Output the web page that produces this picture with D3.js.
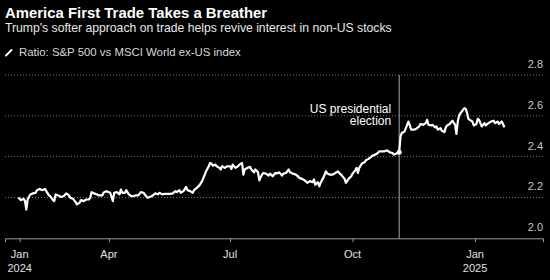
<!DOCTYPE html>
<html>
<head>
<meta charset="utf-8">
<script src="https://cdn.jsdelivr.net/npm/d3@7"></script>
<style>
  body { margin: 0; background: #000; }
  svg { display: block; font-family: "Liberation Sans", Arial, sans-serif; }
</style>
</head>
<body>
<div id="chart"></div>
<script>
var width = 550, height = 280;
var margin = {left: 5, right: 7, top: 75, bottom: 42};

var title = "America First Trade Takes a Breather";
var subtitle = "Trump's softer approach on trade helps revive interest in non-US stocks";
var legendLabel = "Ratio: S&P 500 vs MSCI World ex-US index";

var dates = [
  "2024-01-24","2024-01-26","2024-01-28","2024-01-29","2024-01-30","2024-01-31","2024-02-02","2024-02-04","2024-02-06","2024-02-07",
  "2024-02-09","2024-02-11","2024-02-13","2024-02-14","2024-02-16","2024-02-17","2024-02-19","2024-02-20","2024-02-21","2024-02-23",
  "2024-02-25","2024-02-27","2024-02-29","2024-03-02","2024-03-03","2024-03-05","2024-03-07","2024-03-08","2024-03-10","2024-03-11",
  "2024-03-13","2024-03-15","2024-03-17","2024-03-18","2024-03-19","2024-03-21","2024-03-23","2024-03-25","2024-03-27","2024-03-28",
  "2024-03-30","2024-04-02","2024-04-04","2024-04-05","2024-04-07","2024-04-09","2024-04-10","2024-04-11","2024-04-13","2024-04-14",
  "2024-04-16","2024-04-18","2024-04-19","2024-04-21","2024-04-23","2024-04-25","2024-04-27","2024-04-29","2024-04-30","2024-05-02",
  "2024-05-04","2024-05-06","2024-05-08","2024-05-09","2024-05-11","2024-05-13","2024-05-15","2024-05-17","2024-05-19","2024-05-21",
  "2024-05-22","2024-05-24","2024-05-25","2024-05-27","2024-05-29","2024-05-30","2024-06-01","2024-06-03","2024-06-04","2024-06-06",
  "2024-06-08","2024-06-10","2024-06-11","2024-06-13","2024-06-15","2024-06-16","2024-06-17","2024-06-18","2024-06-20","2024-06-21",
  "2024-06-23","2024-06-24","2024-06-25","2024-06-27","2024-06-29","2024-07-01","2024-07-02","2024-07-03","2024-07-05","2024-07-07",
  "2024-07-08","2024-07-10","2024-07-11","2024-07-12","2024-07-14","2024-07-16","2024-07-17","2024-07-19","2024-07-20","2024-07-22",
  "2024-07-23","2024-07-25","2024-07-26","2024-07-28","2024-07-30","2024-07-31","2024-08-02","2024-08-04","2024-08-05","2024-08-07",
  "2024-08-09","2024-08-10","2024-08-12","2024-08-14","2024-08-15","2024-08-17","2024-08-19","2024-08-21","2024-08-22","2024-08-24",
  "2024-08-26","2024-08-28","2024-08-30","2024-09-01","2024-09-02","2024-09-03","2024-09-05","2024-09-06","2024-09-07","2024-09-09",
  "2024-09-11","2024-09-12","2024-09-14","2024-09-16","2024-09-18","2024-09-20","2024-09-21","2024-09-23","2024-09-25","2024-09-26",
  "2024-09-28","2024-09-30","2024-10-01","2024-10-03","2024-10-04","2024-10-05","2024-10-06","2024-10-08","2024-10-10","2024-10-11",
  "2024-10-13","2024-10-15","2024-10-16","2024-10-18","2024-10-20","2024-10-21","2024-10-23","2024-10-25","2024-10-27","2024-10-29",
  "2024-10-31","2024-11-01","2024-11-03","2024-11-05","2024-11-06","2024-11-07","2024-11-09","2024-11-10","2024-11-12","2024-11-13",
  "2024-11-14","2024-11-16","2024-11-18","2024-11-20","2024-11-21","2024-11-23","2024-11-25","2024-11-26","2024-11-27","2024-11-29",
  "2024-11-30","2024-12-02","2024-12-03","2024-12-04","2024-12-06","2024-12-07","2024-12-09","2024-12-10","2024-12-11","2024-12-13",
  "2024-12-14","2024-12-15","2024-12-17","2024-12-18","2024-12-19","2024-12-20","2024-12-21","2024-12-22","2024-12-24","2024-12-25",
  "2024-12-26","2024-12-27","2024-12-28","2024-12-30","2024-12-31","2025-01-02","2025-01-03","2025-01-04","2025-01-06","2025-01-08",
  "2025-01-09","2025-01-11","2025-01-13","2025-01-15","2025-01-16","2025-01-18","2025-01-19","2025-01-21","2025-01-22","2025-01-23"
];

var ratio = [
  2.199,2.187,2.194,2.182,2.141,2.190,2.215,2.220,2.223,2.236,
  2.242,2.236,2.242,2.231,2.210,2.206,2.187,2.182,2.215,2.210,
  2.203,2.206,2.220,2.210,2.199,2.194,2.177,2.166,2.174,2.187,
  2.182,2.190,2.190,2.199,2.226,2.220,2.215,2.210,2.210,2.223,
  2.231,2.223,2.182,2.223,2.226,2.215,2.239,2.223,2.223,2.236,
  2.215,2.206,2.206,2.210,2.210,2.226,2.223,2.206,2.199,2.203,
  2.210,2.220,2.215,2.223,2.215,2.218,2.218,2.218,2.220,2.231,
  2.226,2.236,2.223,2.231,2.252,2.236,2.231,2.223,2.236,2.247,
  2.259,2.280,2.296,2.328,2.353,2.369,2.366,2.356,2.361,2.353,
  2.345,2.337,2.353,2.345,2.353,2.353,2.340,2.361,2.345,2.353,
  2.361,2.369,2.312,2.337,2.345,2.350,2.337,2.323,2.337,2.323,
  2.284,2.312,2.320,2.317,2.307,2.317,2.304,2.320,2.317,2.323,
  2.307,2.317,2.320,2.337,2.323,2.317,2.313,2.304,2.296,2.291,
  2.284,2.272,2.280,2.275,2.288,2.263,2.275,2.255,2.272,2.296,
  2.328,2.317,2.312,2.312,2.320,2.328,2.320,2.307,2.291,2.272,
  2.291,2.304,2.317,2.333,2.345,2.320,2.345,2.366,2.372,2.382,
  2.389,2.399,2.405,2.410,2.418,2.426,2.426,2.426,2.431,2.421,
  2.418,2.410,2.415,2.421,2.499,2.516,2.523,2.540,2.572,2.553,
  2.532,2.532,2.537,2.548,2.560,2.556,2.564,2.580,2.556,2.553,
  2.556,2.543,2.548,2.532,2.540,2.527,2.520,2.543,2.553,2.560,
  2.569,2.576,2.556,2.511,2.572,2.601,2.613,2.621,2.638,2.634,
  2.613,2.585,2.580,2.572,2.553,2.560,2.585,2.580,2.548,2.564,
  2.553,2.564,2.572,2.576,2.564,2.572,2.560,2.572,2.560,2.543
];

var yTicks = [2.0, 2.2, 2.4, 2.6, 2.8];
var xTickDates = ["2024-01-25", "2024-04-01", "2024-07-01", "2024-10-01", "2025-01-01"];
var xTickMonths = ["Jan", "Apr", "Jul", "Oct", "Jan"];
var xTickYears = ["2024", "", "", "", "2025"];
var xDomain = ["2024-01-14", "2025-02-21"];

var electionDate = "2024-11-05";
var electionLabel = ["US presidential", "election"];

var parseDate = d3.timeParse("%Y-%m-%d");
var data = dates.map((d, i) => ({date: parseDate(d), value: ratio[i]}));

var svg = d3.select("#chart").append("svg")
  .attr("width", width).attr("height", height);

svg.append("rect").attr("width", width).attr("height", height).attr("fill", "#000");

var x = d3.scaleTime()
  .domain(xDomain.map(parseDate))
  .range([margin.left, width - margin.right]);
var y = d3.scaleLinear()
  .domain([2.0, 2.8])
  .range([height - margin.bottom + 0.3, margin.top]);

// header
svg.append("text").attr("x", 5).attr("y", 18)
  .attr("fill", "#fff").style("font-weight", "bold").style("font-size", "14.9px")
  .text(title);
svg.append("text").attr("x", 5).attr("y", 31.5)
  .attr("fill", "#e8e8e8").style("font-size", "12.2px")
  .text(subtitle);
svg.append("line")
  .attr("x1", 6).attr("y1", 55.5).attr("x2", 11.5).attr("y2", 50)
  .attr("stroke", "#fff").attr("stroke-width", 2).attr("stroke-linecap", "round");
svg.append("text").attr("x", 19).attr("y", 55.5)
  .attr("fill", "#d8d8d8").style("font-size", "11.4px")
  .text(legendLabel);

// grid
svg.append("g").selectAll("line")
  .data(yTicks.filter(t => t > 2.0))
  .enter().append("line")
  .attr("x1", margin.left).attr("x2", width - margin.right)
  .attr("y1", d => y(d)).attr("y2", d => y(d))
  .attr("stroke", "#777").attr("stroke-dasharray", "1,2");

svg.append("g").selectAll("text")
  .data(yTicks)
  .enter().append("text")
  .attr("x", width - margin.right)
  .attr("y", d => y(d) - 7)
  .attr("text-anchor", "end")
  .attr("fill", "#c8c8c8").style("font-size", "11px")
  .text(d => d3.format(".1f")(d));

// x axis
var xAxis = d3.axisBottom(x)
  .tickValues(xTickDates.map(parseDate))
  .tickSize(4)
  .tickFormat("");
var gx = svg.append("g")
  .attr("transform", "translate(0," + y(2.0) + ")")
  .call(xAxis);
gx.select(".domain").attr("stroke", "#999");
gx.selectAll(".tick line").attr("stroke", "#999");

svg.append("g").selectAll("text")
  .data(xTickDates)
  .enter().append("text")
  .attr("x", d => x(parseDate(d)))
  .attr("y", 258)
  .attr("text-anchor", "middle")
  .attr("fill", "#e0e0e0").style("font-size", "11px")
  .text((d, i) => xTickMonths[i]);
svg.append("g").selectAll("text")
  .data(xTickDates)
  .enter().append("text")
  .attr("x", d => x(parseDate(d)))
  .attr("y", 271.5)
  .attr("text-anchor", "middle")
  .attr("fill", "#e0e0e0").style("font-size", "11px")
  .text((d, i) => xTickYears[i]);

// election marker
var ex = x(parseDate(electionDate));
svg.append("line")
  .attr("x1", ex).attr("x2", ex)
  .attr("y1", y(2.8)).attr("y2", y(2.0))
  .attr("stroke", "#aaa").attr("stroke-width", 1);
svg.append("g").selectAll("text")
  .data(electionLabel)
  .enter().append("text")
  .attr("x", ex - 8)
  .attr("y", (d, i) => 112.5 + i * 12.5)
  .attr("text-anchor", "end")
  .attr("fill", "#fff").style("font-size", "12px")
  .text(d => d);

// line
var line = d3.line().x(d => x(d.date)).y(d => y(d.value));
svg.append("path")
  .datum(data)
  .attr("fill", "none")
  .attr("stroke", "#fff")
  .attr("stroke-width", 2.2)
  .attr("stroke-linejoin", "round")
  .attr("d", line);

var ep = data.find(d => d3.timeFormat("%Y-%m-%d")(d.date) === electionDate);
svg.append("circle")
  .attr("cx", x(ep.date)).attr("cy", y(ep.value))
  .attr("r", 2.5).attr("fill", "#fff");
</script>
</body>
</html>
